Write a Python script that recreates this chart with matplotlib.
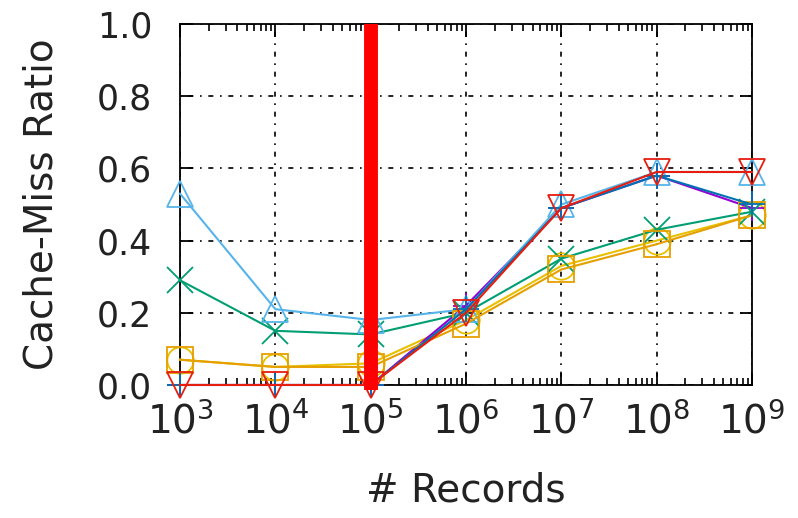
import numpy as np
import matplotlib.pyplot as plt
from matplotlib.ticker import LogLocator, NullFormatter

records = [1e3, 1e4, 1e5, 1e6, 1e7, 1e8, 1e9]

purple_vals = [0.0, 0.0, 0.0, 0.22, 0.49, 0.58, 0.49]
green_vals = [0.29, 0.15, 0.14, 0.20, 0.35, 0.43, 0.48]
blue_vals = [0.53, 0.21, 0.18, 0.21, 0.50, 0.59, 0.59]
yellow_vals = [0.07, 0.05, 0.06, 0.18, 0.33, 0.40, 0.47]
orange_vals = [0.07, 0.05, 0.05, 0.17, 0.32, 0.39, 0.47]
darkblue_vals = [0.0, 0.0, 0.0, 0.21, 0.49, 0.58, 0.50]
red_vals = [0.0, 0.0, 0.0, 0.20, 0.49, 0.59, 0.59]

marker_line = 1e5

fig = plt.figure(figsize=(7.98, 5.18), dpi=100)
ax = fig.add_axes([0.2256, 0.2568, 0.7168, 0.6969])

series = [
    (yellow_vals, "#e8c000", "o"),
    (purple_vals, "#9400d3", "+"),
    (green_vals, "#009e73", "x"),
    (blue_vals, "#56b4e9", "^"),
    (orange_vals, "#e69f00", "s"),
    (darkblue_vals, "#0072b2", "+"),
    (red_vals, "#e51e10", "v"),
]
for vals, col, mk in series:
    ax.plot(records, vals, color=col, lw=1.5, marker=mk, ms=19,
            mfc="none", mew=1.3, clip_on=False, zorder=3)

# highlighted record count
ax.axvline(marker_line, color="#ff0000", lw=10, zorder=4, clip_on=False,
           ymin=-0.015, ymax=1, solid_capstyle="butt")

ax.set_xscale("log")
ax.set_xlim(1e3, 1e9)
ax.set_ylim(0, 1.0)
ax.set_yticks(np.arange(0, 1.01, 0.2))
ax.set_yticklabels([f"{v:.1f}" for v in np.arange(0, 1.01, 0.2)])
ax.xaxis.set_major_locator(LogLocator(base=10, numticks=10))
ax.xaxis.set_minor_locator(LogLocator(base=10, subs=np.arange(2, 10), numticks=100))
ax.xaxis.set_minor_formatter(NullFormatter())

ax.grid(True, which="major", color="black", lw=1.2,
        linestyle=(0, (1, 4, 3, 4)))
ax.set_axisbelow(True)

ax.tick_params(which="both", direction="in", top=True, right=True)
ax.tick_params(which="major", length=9, width=1.3)
ax.tick_params(which="minor", length=5, width=1.2)
ax.tick_params(axis="y", labelsize=25, pad=20, colors="#222222")
ax.tick_params(axis="x", labelsize=28, pad=12, colors="#222222")
ax.tick_params(which="both", color="black")
for s in ax.spines.values():
    s.set_linewidth(1.3)

ax.set_ylabel("Cache-Miss Ratio", fontsize=28, labelpad=26, color="#222222")
ax.set_xlabel("# Records", fontsize=28, labelpad=22, color="#222222")

fig.savefig("out.png", dpi=100)
